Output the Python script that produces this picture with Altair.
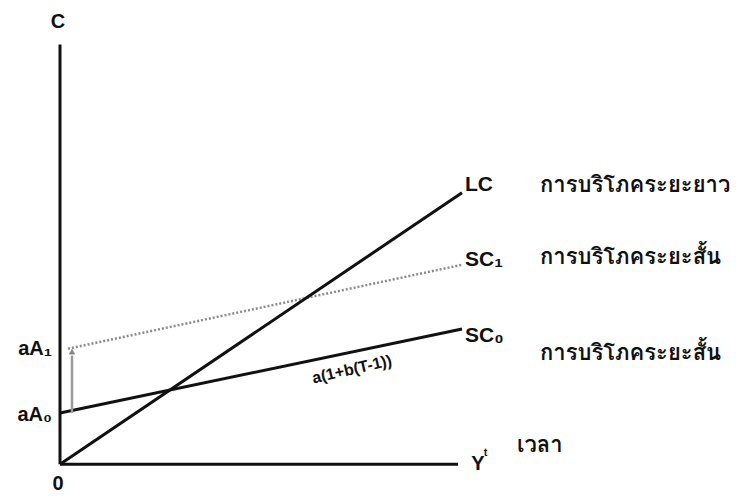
import altair as alt
import pandas as pd

# Curve endpoints (conceptual units; origin at 0,0)
lc_x = [0.0, 10.05]
lc_y = [0.0, 6.875]
sc1_x = [0.2, 10.05]
sc1_y = [2.925, 5.05]
sc0_x = [0.0, 10.05]
sc0_y = [1.3, 3.425]
shift_x = [0.3, 0.3]
shift_y = [1.3, 2.85]
axis_x_len = 9.95
axis_y_len = 10.625

X_DOM = [-1.3, 16.85]
Y_DOM = [-0.6, 11.55]

xs = alt.Scale(domain=X_DOM, nice=False, zero=False)
ys = alt.Scale(domain=Y_DOM, nice=False, zero=False)


def seg(name, xv, yv):
    return pd.DataFrame({"s": name, "x": xv, "y": yv})


def line_layer(df, **mk):
    return alt.Chart(df).mark_line(**mk).encode(
        x=alt.X("x:Q", scale=xs, axis=None),
        y=alt.Y("y:Q", scale=ys, axis=None),
        detail="s:N",
    )


axes_df = pd.concat([
    seg("yaxis", [0, 0], [0, axis_y_len]),
    seg("xaxis", [0, axis_x_len], [0, 0]),
])
solid_df = pd.concat([
    seg("LC", lc_x, lc_y),
    seg("SC0", sc0_x, sc0_y),
])
sc1_df = seg("SC1", sc1_x, sc1_y)
arrow_df = seg("shift", shift_x, [shift_y[0], shift_y[1] - 0.1])
head_df = pd.DataFrame({"x": [shift_x[1]], "y": [shift_y[1]]})

axes = line_layer(axes_df, color="#111", strokeWidth=3)
solid = line_layer(solid_df, color="#111", strokeWidth=3)
sc1 = line_layer(sc1_df, color="#8a8a8a", strokeWidth=2.5, strokeDash=[2, 2])
arrow = line_layer(arrow_df, color="#9a9a9a", strokeWidth=2.5)
head = alt.Chart(head_df).mark_point(shape="triangle-up", filled=True, size=45, color="#555").encode(
    x=alt.X("x:Q", scale=xs, axis=None), y=alt.Y("y:Q", scale=ys, axis=None)
)


def text_layer(labels, xv, yv, **mk):
    df = pd.DataFrame({"t": labels, "x": xv, "y": yv})
    return alt.Chart(df).mark_text(**mk).encode(
        x=alt.X("x:Q", scale=xs, axis=None),
        y=alt.Y("y:Q", scale=ys, axis=None),
        text="t:N",
    )


LAT = "Liberation Sans, Arial, sans-serif"
THAI = "Loma, Garuda, Norasi, Noto Sans Thai Looped, Noto Serif Thai, Noto Sans Thai, sans-serif"

axis_labels = text_layer(["C", "0"], [-0.05, -0.05], [11.2, -0.5],
                         font=LAT, fontSize=20, fontWeight="bold", color="#111",
                         align="center", baseline="middle")
left_labels = text_layer(["aA₁", "aA₀"], [-0.2, -0.2], [2.925, 1.25],
                         font=LAT, fontSize=20, fontWeight="bold", color="#111",
                         align="right", baseline="middle")
curve_labels = text_layer(["LC", "SC₁", "SC₀"], [10.125, 10.125, 10.125], [7.075, 5.175, 3.25],
                          font=LAT, fontSize=21, fontWeight="bold", color="#111",
                          align="left", baseline="middle")
thai_labels = text_layer(["การบริโภคระยะยาว", "การบริโภคระยะสั้น", "การบริโภคระยะสั้น"],
                         [12.0, 12.0, 12.0], [7.075, 5.25, 2.825],
                         font=THAI, fontSize=22, fontWeight="bold", color="#111",
                         align="left", baseline="middle")
y_lab = text_layer(["Y"], [10.45], [0.0], font=LAT, fontSize=20, fontWeight="bold",
                   color="#111", align="center", baseline="middle")
t_lab = text_layer(["t"], [10.64], [0.28], font=LAT, fontSize=11, fontWeight="bold",
                   color="#111", align="center", baseline="middle")
time_lab = text_layer(["เวลา"], [11.425], [0.5], font=THAI, fontSize=22, fontWeight="bold",
                      color="#111", align="left", baseline="middle")
formula = text_layer(["a(1+b(T-1))"], [7.3], [2.4], font=LAT, fontSize=16, fontWeight="bold",
                     color="#111", align="center", baseline="middle", angle=347)

chart = alt.layer(
    axes, sc1, solid, arrow, head,
    axis_labels, left_labels, curve_labels, thai_labels, y_lab, t_lab, time_lab, formula,
).properties(
    width=726, height=486,
    autosize=alt.AutoSizeParams(type="fit", contains="padding"),
    padding=0,
).configure_view(stroke=None)

chart.save("out.html", embed_options={"renderer": "svg", "actions": False})
